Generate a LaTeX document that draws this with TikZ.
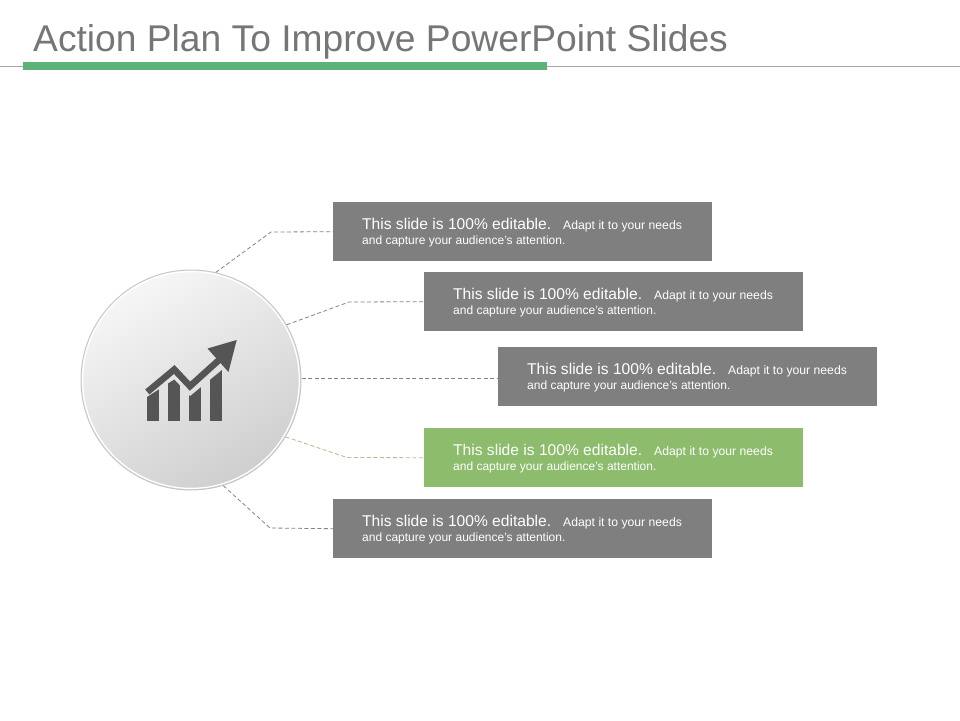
\documentclass[tikz,border=0pt]{standalone}
\usepackage{fontspec}
\setmainfont{Liberation Sans}
\usetikzlibrary{calc}
\definecolor{boxgray}{HTML}{7F7F7F}
\definecolor{boxgreen}{HTML}{8CBC6C}
\definecolor{titlegray}{HTML}{767676}
\definecolor{bargreen}{HTML}{5DB277}
\definecolor{rulegray}{HTML}{A6A6A6}
\definecolor{icongray}{HTML}{555555}
\definecolor{conngray}{HTML}{858585}
\definecolor{conngreen}{HTML}{A3C493}
\begin{document}
\begin{tikzpicture}[x=1pt,y=-1pt,
  box/.style={fill=boxgray, draw=none, minimum width=379pt, minimum height=59pt, inner sep=0pt, anchor=north west},
  gbox/.style={box, fill=boxgreen},
  conn/.style={draw=conngray, line width=0.8pt, dash pattern=on 4pt off 2.5pt},
  gconn/.style={conn, draw=conngreen},
  txt/.style={anchor=base west, inner sep=0pt, text=white},
  big/.style={font=\fontsize{15.6}{18}\selectfont},
  small/.style={font=\fontsize{12}{14}\selectfont}
]
\useasboundingbox (0,0) rectangle (960,720);
\fill[white] (0,0) rectangle (960,720);

% title
\node[anchor=base west, inner sep=0pt, text=titlegray, font=\fontsize{37.2}{40}\selectfont] (title) at (33,51.7) {Action Plan To Improve PowerPoint Slides};
\coordinate (rl) at (0,66.5);
\coordinate (rr) at (960,66.5);
\draw[rulegray, line width=0.8pt] (rl) -- (rr);
\fill[bargreen] (23,62) rectangle (547,69.5);

% circle
\node[circle, minimum size=220pt, inner sep=0pt, draw=black!22, line width=1pt,
      top color=gray!7, bottom color=gray!38, shading angle=30] (c) at (191,380) {};
\draw[white, line width=1.3pt] (c.center) circle[radius=108.4];

% icon
\begin{scope}
  \clip (140,401.5) -- (174.3,379.5) -- (190,396.2) -- (222,370) -- (232,354) -- (232,430) -- (140,430) -- cycle;
  \fill[icongray] (147.3,350) rectangle (158.8,421);
  \fill[icongray] (168.3,350) rectangle (180,421);
  \fill[icongray] (189.3,350) rectangle (200.8,421);
  \fill[icongray] (210.2,350) rectangle (221.8,421);
\end{scope}
\draw[icongray, line width=6.5pt, line join=miter] (147.3,392) -- (174.3,369.5) -- (190,386.2) -- (219,360);
\fill[icongray] (236.7,340) -- (207.5,348.5) -- (228.5,372) -- cycle;

% boxes
\node[box] (b1) at (333,202) {};
\node[box] (b2) at (424,272) {};
\node[box] (b3) at (498,347) {};
\node[gbox] (b4) at (424,428) {};
\node[box] (b5) at (333,499) {};

% texts
\foreach \b in {b1,b2,b3,b4,b5}{
  \node[txt, big] (\b a) at ($(\b.north west)+(29,27)$) {This slide is 100\% editable.\hspace{12pt}{\fontsize{12.2}{14}\selectfont Adapt it to your needs}};
  \node[txt, small] (\b b) at ($(\b.north west)+(29,42.3)$) {and capture your audience's attention.};
}

% connectors
\coordinate (k1) at (271,232);
\coordinate (k2) at (349,302);
\coordinate (k4) at (347,457.5);
\coordinate (k5) at (270,528);
\draw[conn] (c.77) -- (k1) -- (b1.west);
\draw[conn] (c.30) -- (k2) -- (b2.west);
\draw[conn] (c.east |- 0,378.5) -- (b3.west |- 0,378.5);
\draw[gconn] (c.-31) -- (k4) -- (b4.west);
\draw[conn] (c.-73) -- (k5) -- (b5.west);
\end{tikzpicture}
\end{document}
